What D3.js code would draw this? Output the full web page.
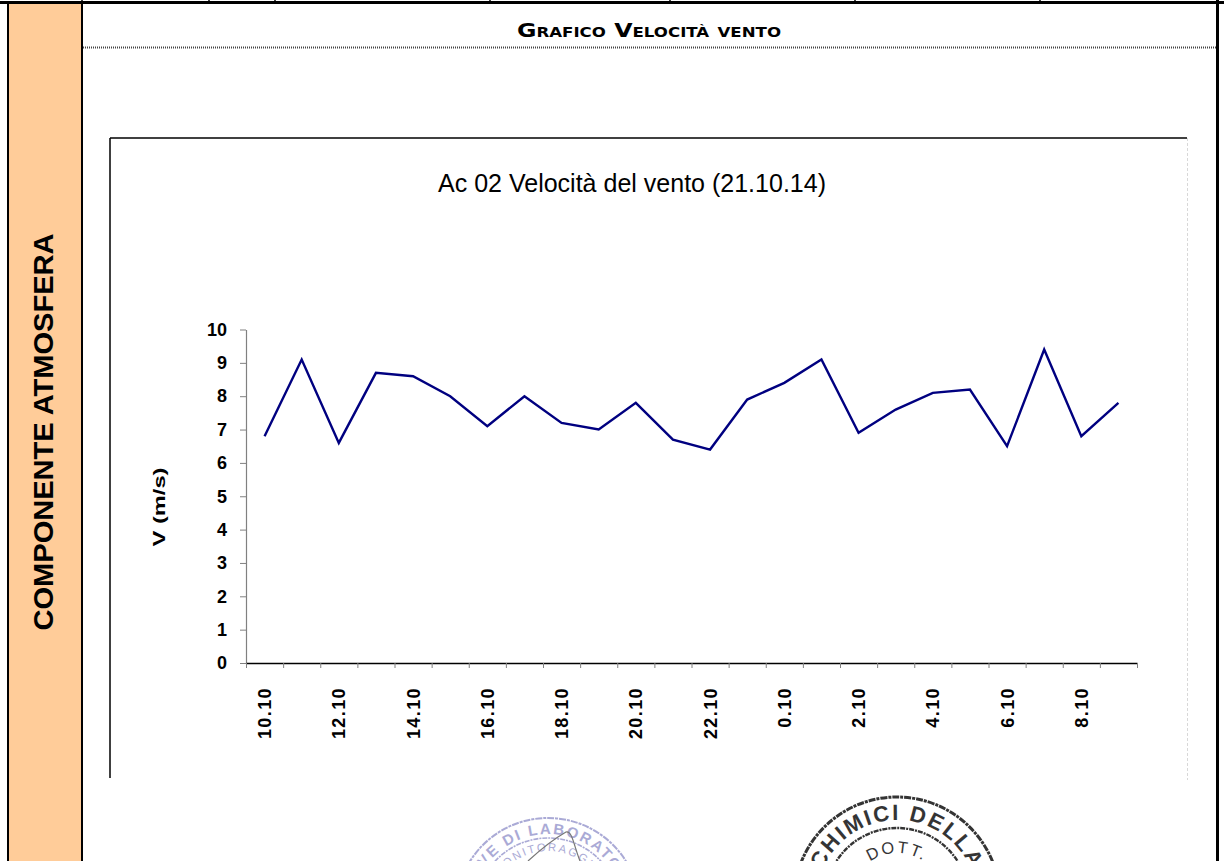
<!DOCTYPE html>
<html>
<head>
<meta charset="utf-8">
<script src="https://cdn.jsdelivr.net/npm/d3@7"></script>
<style>
  body { margin: 0; background: #fff; }
  svg { display: block; }
</style>
</head>
<body>
<script>
// hours of the day (category labels)
const hours = ["10.10", "11.10", "12.10", "13.10", "14.10", "15.10", "16.10", "17.10",
  "18.10", "19.10", "20.10", "21.10", "22.10", "23.10", "0.10", "1.10",
  "2.10", "3.10", "4.10", "5.10", "6.10", "7.10", "8.10", "9.10"];

// wind speed V (m/s)
const speeds = [6.8, 9.1, 6.6, 8.7, 8.6, 8.0, 7.1, 8.0, 7.2, 7.0, 7.8, 6.7,
  6.4, 7.9, 8.4, 9.1, 6.9, 7.6, 8.1, 8.2, 6.5, 9.4, 6.8, 7.8];

const yTicks = [0, 1, 2, 3, 4, 5, 6, 7, 8, 9, 10];

const pageTitle = "Grafico Velocità vento";
const sideLabel = "COMPONENTE ATMOSFERA";
const chartTitle = "Ac 02 Velocità del vento (21.10.14)";
const yLabel = "V (m/s)";

const W = 1224, H = 861;
const plot = { left: 246, right: 1137, top: 329.5, bottom: 663 };

const svg = d3.select("body")
  .append("svg")
  .attr("width", W)
  .attr("height", H);

// ---- page frame ----
svg.append("rect")
  .attr("x", 8).attr("y", 4)
  .attr("width", 74).attr("height", H)
  .attr("fill", "#FFCC99");

const frameLines = [
  [8, 3, 8, H, 2], [82, 3, 82, H, 2], [1217.5, 0, 1217.5, H, 3],
  [0, 2.5, W, 2.5, 3]
];
[82, 209, 275, 490, 670, 855, 1040].forEach(x => frameLines.push([x, 0, x, 3, 1.5]));

svg.selectAll(".frame")
  .data(frameLines)
  .enter().append("line")
  .attr("x1", d => d[0]).attr("y1", d => d[1])
  .attr("x2", d => d[2]).attr("y2", d => d[3])
  .attr("stroke", "#000")
  .attr("stroke-width", d => d[4]);

// side label
svg.append("text")
  .attr("transform", "translate(53,432) rotate(-90)")
  .attr("text-anchor", "middle")
  .attr("font-family", "Liberation Sans, Arial, sans-serif")
  .attr("font-weight", "bold")
  .attr("font-size", 27)
  .attr("textLength", 397)
  .attr("lengthAdjust", "spacingAndGlyphs")
  .text(sideLabel);

// page heading + dotted rule
svg.append("text")
  .attr("x", 649).attr("y", 37)
  .attr("text-anchor", "middle")
  .attr("font-family", "DejaVu Sans, Verdana, sans-serif")
  .attr("font-weight", "bold")
  .attr("font-size", 20)
  .attr("font-variant", "small-caps")
  .attr("textLength", 264)
  .attr("lengthAdjust", "spacingAndGlyphs")
  .text(pageTitle);

svg.append("line")
  .attr("x1", 83).attr("x2", 1216)
  .attr("y1", 47.5).attr("y2", 47.5)
  .attr("stroke", "#444")
  .attr("stroke-width", 2)
  .attr("stroke-dasharray", "1 1");

// ---- chart box ----
svg.append("line")
  .attr("x1", 110).attr("x2", 1187).attr("y1", 138).attr("y2", 138)
  .attr("stroke", "#000").attr("stroke-width", 1.5);
svg.append("line")
  .attr("x1", 110).attr("x2", 110).attr("y1", 138).attr("y2", 778)
  .attr("stroke", "#000").attr("stroke-width", 1.5);
svg.append("line")
  .attr("x1", 1187.5).attr("x2", 1187.5).attr("y1", 138).attr("y2", 780)
  .attr("stroke", "#d8d8d8").attr("stroke-width", 1)
  .attr("stroke-dasharray", "3 2");

svg.append("text")
  .attr("x", 632).attr("y", 192)
  .attr("text-anchor", "middle")
  .attr("font-family", "Liberation Sans Narrow, Liberation Sans, Arial, sans-serif")
  .attr("font-size", 26)
  .attr("textLength", 388)
  .attr("lengthAdjust", "spacingAndGlyphs")
  .text(chartTitle);

// ---- scales ----
const x = d3.scaleBand()
  .domain(hours)
  .range([plot.left, plot.right])
  .padding(0);

const xEdges = d3.scaleLinear()
  .domain([0, hours.length])
  .range([plot.left, plot.right]);

const y = d3.scaleLinear()
  .domain([0, 10])
  .range([plot.bottom, plot.top]);

// y axis
const yAxis = svg.append("g")
  .attr("transform", `translate(${plot.left},0)`)
  .call(d3.axisLeft(y).tickValues(yTicks).tickSize(6).tickSizeOuter(0).tickPadding(13));
yAxis.select(".domain").attr("stroke", "#808080").attr("stroke-width", 1.2);
yAxis.selectAll(".tick line").attr("stroke", "#808080");
yAxis.selectAll("text")
  .attr("font-family", "Liberation Sans, Arial, sans-serif")
  .attr("font-weight", "bold")
  .attr("font-size", 18)
  .attr("fill", "#000");

svg.append("text")
  .attr("transform", "translate(165,507) rotate(-90)")
  .attr("text-anchor", "middle")
  .attr("font-family", "Liberation Sans, Arial, sans-serif")
  .attr("font-weight", "bold")
  .attr("font-size", 17)
  .attr("textLength", 79)
  .attr("lengthAdjust", "spacingAndGlyphs")
  .text(yLabel);

// x axis: tick marks on the category edges
const xTicks = svg.append("g")
  .attr("transform", `translate(0,${plot.bottom})`)
  .call(d3.axisBottom(xEdges).tickValues(d3.range(hours.length + 1)).tickSize(5).tickSizeOuter(0).tickFormat(""));
xTicks.select(".domain").attr("stroke", "#000").attr("stroke-width", 1.3);
xTicks.selectAll(".tick line").attr("stroke", "#808080");

// x axis labels: every other hour, rotated
const xLabels = svg.append("g")
  .attr("transform", `translate(0,${plot.bottom})`)
  .call(d3.axisBottom(x).tickSize(0).tickFormat((d, i) => i % 2 === 0 ? d : ""));
xLabels.select(".domain").remove();
xLabels.selectAll("text")
  .attr("transform", "rotate(-90)")
  .attr("text-anchor", "end")
  .attr("dy", "0.36em")
  .attr("x", -24)
  .attr("y", 0)
  .attr("font-family", "Liberation Sans, Arial, sans-serif")
  .attr("font-weight", "bold")
  .attr("font-size", 18)
  .attr("letter-spacing", 1.4)
  .attr("fill", "#000");

// ---- the line ----
const line = d3.line()
  .x((d, i) => x(hours[i]) + x.bandwidth() / 2)
  .y(d => y(d));

svg.append("path")
  .datum(speeds)
  .attr("fill", "none")
  .attr("stroke", "#000080")
  .attr("stroke-width", 2.4)
  .attr("stroke-linejoin", "miter")
  .attr("d", line);

// ---- stamps at the bottom (cut by the page edge) ----
function arcText(g, id, cx, cy, r, txt, size, color, weight) {
  g.append("path").attr("id", id)
    .attr("fill", "none")
    .attr("d", `M${cx - r},${cy} A${r},${r} 0 0 1 ${cx + r},${cy}`);
  g.append("text")
    .attr("font-family", "Liberation Sans, Arial, sans-serif")
    .attr("font-weight", weight)
    .attr("font-size", size)
    .attr("fill", color)
    .attr("letter-spacing", 2)
    .append("textPath")
    .attr("href", "#" + id)
    .attr("startOffset", "50%")
    .attr("text-anchor", "middle")
    .text(txt);
}

function stamp(s) {
  const g = svg.append("g").attr("opacity", 0.85);
  g.append("circle").attr("cx", s.cx).attr("cy", s.cy).attr("r", s.rOut)
    .attr("fill", "none").attr("stroke", s.color).attr("stroke-width", s.width)
    .attr("stroke-dasharray", "7 1 3 1");
  g.append("circle").attr("cx", s.cx).attr("cy", s.cy).attr("r", s.rIn)
    .attr("fill", "none").attr("stroke", s.color).attr("stroke-width", s.width * 0.8)
    .attr("stroke-dasharray", "5 1 2 1");
  arcText(g, s.id + "o", s.cx, s.cy, s.rText, s.outer, s.size, s.color, "bold");
  arcText(g, s.id + "i", s.cx, s.cy, s.rInner, s.inner, s.size * 0.75, s.color, "normal");
}

stamp({ id: "blue", cx: 548, cy: 910, rOut: 92, rIn: 72, rText: 76, rInner: 59,
  color: "#9c9ccf", outer: "PROVE DI LABORATORIO", inner: "MONITORAGGIO", size: 15, width: 2 });
stamp({ id: "black", cx: 897, cy: 900, rOut: 103, rIn: 72, rText: 80, rInner: 47,
  color: "#111", outer: "CHIMICI DELLA", inner: "DOTT.", size: 22, width: 3 });

// signature stroke over the blue stamp
svg.append("path")
  .attr("d", "M528,861 C540,850 552,840 566,832 C572,830 574,846 580,861")
  .attr("fill", "none")
  .attr("stroke", "#777")
  .attr("stroke-width", 1.2);
</script>
</body>
</html>
